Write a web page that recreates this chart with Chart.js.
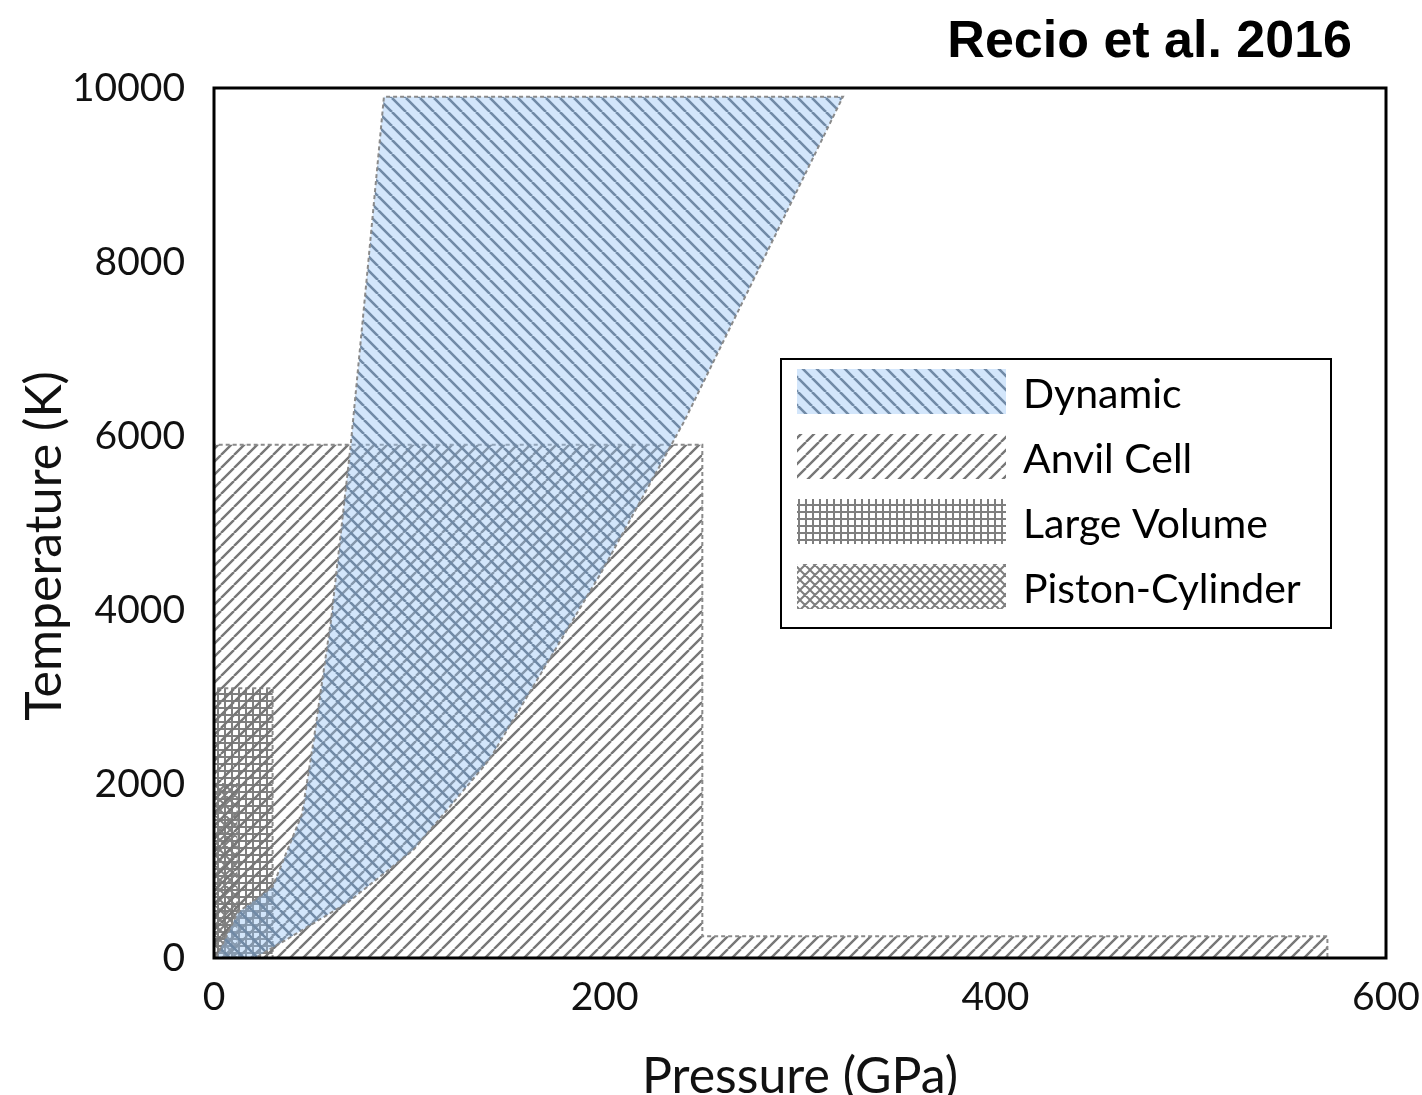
<!DOCTYPE html>
<html>
<head>
<meta charset="utf-8">
<script src="https://cdn.jsdelivr.net/npm/chart.js@4.4.1/dist/chart.umd.min.js"></script>
<style>
  html, body { margin: 0; background: #fff; }
  #wrap { width: 1422px; height: 1095px; }
</style>
</head>
<body>
<div id="wrap"><canvas id="ptChart"></canvas></div>
<script>
// outlines of the P-T ranges reached by each technique (pressure in GPa, temperature in K)
const dynamicP = [1, 21, 34, 68, 102, 141, 198, 241, 322, 87, 79, 70, 60, 51, 45, 30, 12, 1];
const dynamicT = [0, 0, 170, 630, 1240, 2280, 4420, 6180, 9900, 9900, 8000, 5900, 3900, 2500, 1650, 820, 520, 0];

const anvilP = [0, 0, 250, 250, 570, 570, 0];
const anvilT = [0, 5900, 5900, 250, 250, 0, 0];

const largeVolP = [0, 0, 30, 30, 0];
const largeVolT = [0, 3100, 3100, 0, 0];

const pistonP = [0, 0, 12, 12, 0];
const pistonT = [0, 2000, 2000, 0, 0];

const labels = ['Dynamic', 'Anvil Cell', 'Large Volume', 'Piston-Cylinder'];
const pressureTicks = [0, 200, 400, 600];
const tempTicks = [0, 2000, 4000, 6000, 8000, 10000];

const lineGray = '#7f7f7f';

function tile(size) {
  const c = document.createElement('canvas');
  c.width = c.height = size;
  return c;
}

// diagonal hatch; dir 1 = "/", -1 = "\"
function hatch(size, dir, color, width, wash) {
  const c = tile(size);
  const g = c.getContext('2d');
  g.strokeStyle = color;
  g.lineWidth = width;
  g.beginPath();
  for (let k = -1; k <= 1; k++) {
    if (dir > 0) {
      g.moveTo(k * size, size);
      g.lineTo(k * size + size, 0);
    } else {
      g.moveTo(k * size, 0);
      g.lineTo(k * size + size, size);
    }
  }
  g.stroke();
  if (wash) {
    g.fillStyle = wash;
    g.fillRect(0, 0, size, size);
  }
  return g.createPattern(c, 'repeat');
}

function grid(size, color, width) {
  const c = tile(size);
  const g = c.getContext('2d');
  g.fillStyle = color;
  g.fillRect(0, 0, size, width);
  g.fillRect(0, 0, width, size);
  return g.createPattern(c, 'repeat');
}

function crossHatch(size, color, width) {
  const c = tile(size);
  const g = c.getContext('2d');
  g.strokeStyle = color;
  g.lineWidth = width;
  g.beginPath();
  for (let k = -1; k <= 1; k++) {
    g.moveTo(k * size, size);
    g.lineTo(k * size + size, 0);
    g.moveTo(k * size, 0);
    g.lineTo(k * size + size, size);
  }
  g.stroke();
  return g.createPattern(c, 'repeat');
}

const zip = (ps, ts) => ps.map((p, i) => ({ x: p, y: ts[i] }));

function region(label, ps, ts, pattern) {
  return {
    label: label,
    data: zip(ps, ts),
    fill: 'shape',
    backgroundColor: pattern,
    borderColor: '#8a8a8a',
    borderWidth: 2,
    borderDash: [4, 3],
    pointRadius: 0,
    tension: 0
  };
}

// plot frame on all four sides
const frame = {
  id: 'frame',
  afterDatasetsDraw(chart) {
    const { ctx, chartArea: a } = chart;
    ctx.save();
    ctx.strokeStyle = '#000';
    ctx.lineWidth = 3;
    ctx.strokeRect(a.left, a.top, a.right - a.left, a.bottom - a.top);
    ctx.restore();
  }
};

// boxed legend sitting inside the plot
const legendBox = {
  id: 'legendBox',
  afterDraw(chart, args, o) {
    const ctx = chart.ctx;
    ctx.save();
    ctx.fillStyle = '#fff';
    ctx.fillRect(o.left, o.top, o.width, o.height);
    ctx.strokeStyle = '#000';
    ctx.lineWidth = 2;
    ctx.strokeRect(o.left, o.top, o.width, o.height);
    chart.data.datasets.forEach((ds, i) => {
      const y = o.top + o.firstRow + i * o.rowGap;
      ctx.fillStyle = ds.backgroundColor;
      ctx.fillRect(o.left + o.swatchX, y, o.swatchW, o.swatchH);
      ctx.fillStyle = '#000';
      ctx.font = o.font;
      ctx.textBaseline = 'middle';
      ctx.textAlign = 'left';
      ctx.fillText(ds.label, o.left + o.textX, y + o.swatchH / 2 + 3);
    });
    ctx.restore();
  }
};

// corner heading and the two axis captions
const captions = {
  id: 'captions',
  afterDraw(chart, args, o) {
    const { ctx, chartArea: a } = chart;
    ctx.save();
    ctx.fillStyle = '#000';
    ctx.font = o.headFont;
    ctx.textAlign = 'right';
    ctx.textBaseline = 'alphabetic';
    ctx.fillText(o.head, o.headX, o.headY);

    ctx.fillStyle = '#111';
    ctx.font = o.axisFont;
    ctx.textAlign = 'center';
    ctx.textBaseline = 'alphabetic';
    ctx.fillText(o.xTitle, (a.left + a.right) / 2, o.xBaseline);

    ctx.translate(o.yBaseline, (a.top + a.bottom) / 2 + o.yShift);
    ctx.rotate(-Math.PI / 2);
    ctx.fillText(o.yTitle, 0, 0);
    ctx.restore();
  }
};

const tickFont = { family: 'Lato', size: 39 };
const plain = v => String(v);

new Chart(document.getElementById('ptChart'), {
  type: 'line',
  data: {
    datasets: [
      region(labels[0], dynamicP, dynamicT, hatch(14, -1, '#56616d', 2.6, 'rgba(150, 195, 245, 0.42)')),
      region(labels[1], anvilP, anvilT, hatch(13, 1, '#777', 2.4)),
      region(labels[2], largeVolP, largeVolT, grid(7, lineGray, 2)),
      region(labels[3], pistonP, pistonT, crossHatch(10, lineGray, 2))
    ]
  },
  options: {
    responsive: true,
    maintainAspectRatio: false,
    animation: false,
    layout: { padding: { top: 88, right: 36, left: 0, bottom: 0 } },
    plugins: {
      legend: { display: false },
      tooltip: { enabled: false },
      legendBox: {
        left: 781, top: 359, width: 550, height: 269,
        firstRow: 10, rowGap: 65, swatchX: 16, swatchW: 209, swatchH: 45,
        textX: 242, font: '41px Lato'
      },
      captions: {
        head: 'Recio et al. 2016', headX: 1352, headY: 57, headFont: 'bold 52px "Liberation Sans"',
        axisFont: '50px Lato',
        xTitle: 'Pressure (GPa)', xBaseline: 1093,
        yTitle: 'Temperature (K)', yBaseline: 61, yShift: 23
      }
    },
    scales: {
      x: {
        type: 'linear',
        min: 0,
        max: 600,
        afterBuildTicks: s => { s.ticks = pressureTicks.map(v => ({ value: v })); },
        afterFit: s => { s.height = 137; s.paddingLeft = 0; s.paddingRight = 0; },
        grid: { display: false, drawTicks: false },
        border: { display: false },
        ticks: { font: tickFont, color: '#111', padding: 16, maxRotation: 0, callback: plain }
      },
      y: {
        min: 0,
        max: 10000,
        afterBuildTicks: s => { s.ticks = tempTicks.map(v => ({ value: v })); },
        afterFit: s => { s.width = 214; s.paddingTop = 0; s.paddingBottom = 0; },
        grid: { display: false, drawTicks: false },
        border: { display: false },
        ticks: { font: tickFont, color: '#111', padding: 29, callback: plain }
      }
    }
  },
  plugins: [frame, legendBox, captions]
});
</script>
</body>
</html>
